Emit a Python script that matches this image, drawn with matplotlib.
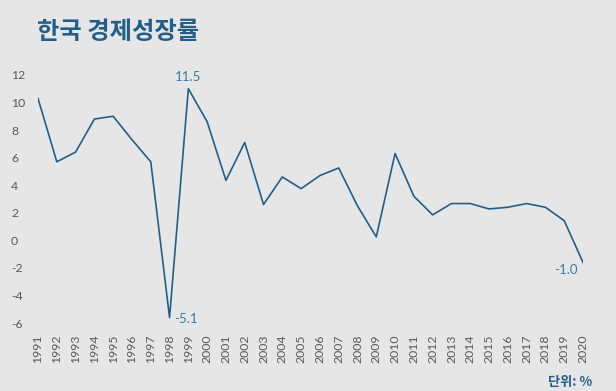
import matplotlib.pyplot as plt

years = list(range(1991, 2021))
# growth values as drawn in the picture (line is plotted a bit lower than the labels say)
growth = [10.3, 5.7, 6.4, 8.8, 9.0, 7.3, 5.7, -5.6, 11.0, 8.6,
          4.35, 7.1, 2.6, 4.6, 3.75, 4.7, 5.25, 2.5, 0.25, 6.3,
          3.2, 1.85, 2.67, 2.67, 2.28, 2.4, 2.67, 2.4, 1.43, -1.6]
label_years = [1999, 1998, 2020]
label_texts = ["11.5", "-5.1", "-1.0"]
yticks = [-6, -4, -2, 0, 2, 4, 6, 8, 10, 12]

bg = "#e6e6e6"
blue = "#215f8a"
label_blue = "#3b7aa6"
gray = "#595959"

plt.rcParams['font.family'] = ['Lato', 'Noto Sans CJK KR', 'DejaVu Sans']

fig = plt.figure(figsize=(6.16, 3.91), dpi=100, facecolor=bg)
ax = fig.add_axes([38/616, 1 - 330/391, (583-38)/616, (330-68)/391])
ax.set_facecolor(bg)

ax.plot(years, growth, color=blue, linewidth=1.2)

ax.set_xlim(1991, 2020)
ax.set_ylim(-6.5, 12.5)
ax.set_xticks(years)
ax.set_xticklabels([str(y) for y in years], rotation=90, fontsize=8.8, color=gray)
ax.set_yticks(yticks)
ax.set_yticklabels([str(t) for t in yticks], fontsize=8.8, color=gray, ha='left')
ax.tick_params(axis='y', length=0, pad=19.4)
ax.tick_params(axis='x', length=0, pad=3)
for s in ax.spines.values():
    s.set_visible(False)

# data labels
offsets = {1999: (0, 4, 'center', 'bottom'),
           1998: (3, -1, 'left', 'center'),
           2020: (-4, -1, 'right', 'top')}
for yr, txt in zip(label_years, label_texts):
    v = growth[years.index(yr)]
    dx, dy, ha, va = offsets[yr]
    ax.annotate(txt, (yr, v), xytext=(dx, dy), textcoords='offset points',
                ha=ha, va=va, fontsize=9.5, color=label_blue)

fig.text(37/616, 1 - 32/391, "한국 경제성장률", fontsize=17.5, fontweight='bold',
         color=blue, va='center', ha='left', family=['Noto Sans CJK KR'])
fig.text(592/616, 1 - 382/391, "단위: %", fontsize=9.5, fontweight='bold',
         color=blue, va='center', ha='right', family=['Noto Sans CJK KR'])

plt.savefig("out.png", dpi=100, facecolor=bg)
